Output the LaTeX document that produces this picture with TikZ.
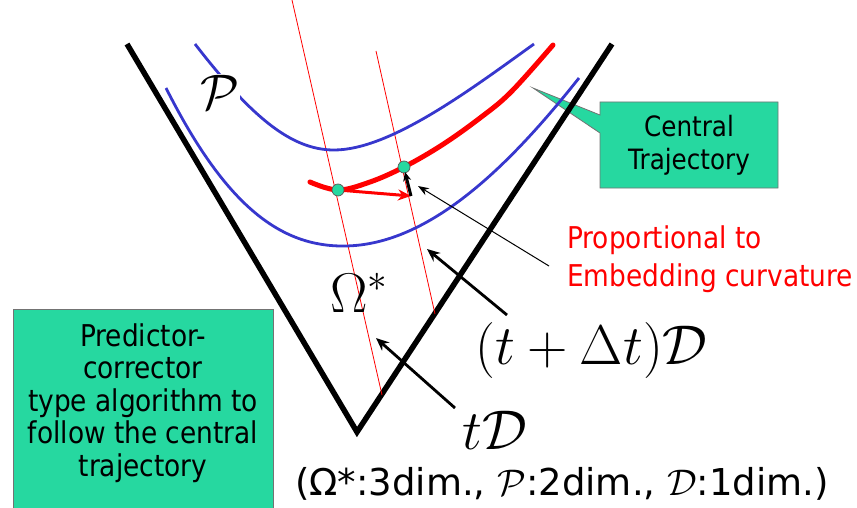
\documentclass[tikz,border=0pt]{standalone}
\usepackage{fix-cm}
\usepackage[no-math]{fontspec}
\newfontfamily\tah[FakeStretch=0.88]{DejaVu Sans}
\newfontfamily\verd{DejaVu Sans}
\usetikzlibrary{arrows.meta}
\definecolor{mint}{RGB}{38,216,160}
\definecolor{pblue}{RGB}{55,55,205}
\definecolor{pred}{RGB}{255,0,0}
\begin{document}
\begin{tikzpicture}[x=1pt,y=-1pt,
  vline/.style={line width=5.5pt, line join=miter},
  pcurve/.style={line width=2.8pt, draw=pblue},
  rthin/.style={line width=0.8pt, draw=pred},
  ctraj/.style={line width=5pt, draw=pred, line cap=round},
  gdot/.style={circle, fill=mint, draw=black!65, line width=0.7pt, inner sep=0pt, minimum size=12pt},
  gbox/.style={fill=mint, draw=black!55, line width=0.8pt},
  boxtext/.style={font=\tah\fontsize{30}{32.5}\selectfont, align=center, text=black},
  redtext/.style={font=\tah\fontsize{30}{38}\selectfont, text=pred, align=left},
  bigmath/.style={font=\fontsize{56}{66}\selectfont, inner sep=0pt},
  harrow/.style={line width=2.8pt, -{Stealth[length=13pt,width=11pt]}},
  tarrow/.style={line width=1pt, -{Stealth[length=11pt,width=8pt]}},
]
\useasboundingbox (0,0) rectangle (857,508);

% callout box
\coordinate (cttip) at (533,88);
\draw[gbox, line join=miter] (600,102) -- (778,102) -- (778,188) -- (600,188) -- (600,133) -- (cttip) -- (600,115) -- cycle;
\node[align=center, font=\tah\fontsize{28}{33}\selectfont] (ct) at (689,145) {Central\\Trajectory};

% V shape
\coordinate (vl) at (127,44);
\coordinate (vb) at (357,432);
\coordinate (vr) at (612,44);
\draw[vline] (vl) -- (vb) -- (vr);

% thin red lines
\coordinate (r1a) at (292,0);
\coordinate (r1b) at (382,395);
\coordinate (r2a) at (376,51);
\coordinate (r2b) at (435,314);
\draw[rthin] (r1a) -- (r1b);
\draw[rthin] (r2a) -- (r2b);

% blue level curves
\draw[pcurve] (195,44) .. controls (250,115) and (290,150) .. (334,150)
              .. controls (390,150) and (470,90) .. (534,44);
\draw[pcurve] (166,88) .. controls (225,205) and (280,247) .. (345,246)
              .. controls (430,245) and (510,165) .. (579,78);

% central trajectory
\draw[ctraj] plot[smooth, tension=0.6] coordinates {(310,182) (338,190) (370,182) (404,167) (442,145) (480,118) (511,92) (553,45)};

% predictor step
\coordinate (p1) at (338,190);
\coordinate (p2) at (404,167);
\coordinate (pr) at (411,196);
\coordinate (pc) at (405,172);
\draw[line width=3pt, pred, -{Stealth[length=13pt,width=11pt]}] (p1) -- (pr);
\node[gdot] (d1) at (p1) {};
\node[gdot] (d2) at (p2) {};
\draw[line width=3pt, -{Stealth[length=9pt,width=8pt]}] (pr) -- (pc);

% pointer arrows
\coordinate (ptail) at (549,266);
\coordinate (phead) at (418,186);
\draw[tarrow] (ptail) -- (phead);
\coordinate (a1t) at (507,315);
\coordinate (a1h) at (427,249);
\draw[harrow] (a1t) -- (a1h);
\coordinate (a2t) at (455,408);
\coordinate (a2h) at (376,338);
\draw[harrow] (a2t) -- (a2h);

% math labels
\node[font=\fontsize{50}{60}\selectfont, fill=white, inner sep=0.5pt] (P) at (220,92) {$\mathcal{P}$};
\node[bigmath, anchor=base west] (om) at (330,312) {$\Omega^*$};
\node[bigmath, anchor=base west] (tdt) at (475,364) {$(t+\Delta t)\mathcal{D}$};
\node[bigmath, anchor=base west] (td) at (462,449) {$t\mathcal{D}$};

% red text
\node[redtext, anchor=west, inner sep=0pt] (prop) at (567,259) {Proportional to\\Embedding curvature};

% caption
\node[font=\verd\fontsize{37}{44}\selectfont] (cap) at (562,484) {(Ω*:3dim., $\mathcal{P}$:2dim., $\mathcal{D}$:1dim.)};

% left box
\node[gbox, anchor=north west, minimum width=260pt, minimum height=205pt, inner sep=0pt] (algob) at (13,309) {};
\node[boxtext] (algot) at (143,403) {Predictor-\\corrector\\type algorithm to\\follow the central\\trajectory};
\end{tikzpicture}
\end{document}
